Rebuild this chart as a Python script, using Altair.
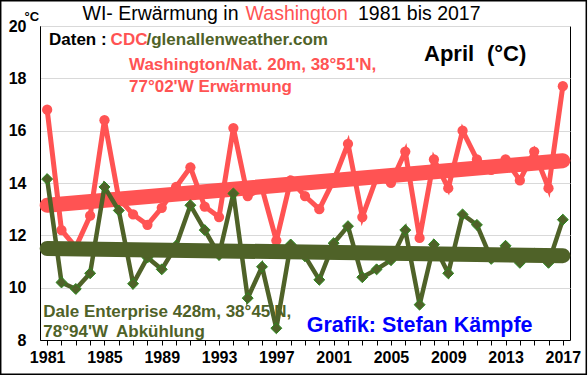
import altair as alt
import pandas as pd

# ---------------- data ----------------
years = list(range(1981, 2018))
washington = [16.8, 12.2, 11.55, 12.75, 16.4, 13.4, 12.8, 12.4, 13.05, 13.85,
              14.6, 13.1, 12.7, 16.1, 13.5, 13.8, 11.8, 14.1, 13.5, 13.0,
              14.1, 15.5, 12.7, 14.2, 14.0, 15.2, 11.9, 14.9, 13.8, 16.0,
              14.9, 14.5, 14.9, 14.1, 15.2, 13.8, 17.7]
dale = [14.15, 10.2, 9.95, 10.55, 13.85, 12.95, 10.15, 11.15, 10.7, 11.6,
        13.15, 12.2, 11.25, 13.6, 9.6, 10.8, 8.45, 11.65, 11.2, 10.3,
        11.7, 12.35, 10.4, 10.7, 11.05, 12.2, 9.35, 11.65, 10.55, 12.8,
        12.4, 11.1, 11.6, 10.95, 11.3, 10.95, 12.6]
trend_years = [1981, 2017]
washington_trend = [13.15, 14.85]
dale_trend = [11.5, 11.22]
y_ticks = [8, 10, 12, 14, 16, 18, 20]

title_parts = ["WI- Erwärmung in", "Washington", "1981 bis 2017"]
source_parts = ["Daten :", "CDC", "/glenallenweather.com"]
month_parts = ["April", "(°C)"]
wash_label = ["Washington/Nat. 20m, 38°51'N,", "77°02'W Erwärmung"]
dale_label = ["Dale Enterprise 428m, 38°45'N,", "78°94'W", "Abkühlung"]
credit = ["Grafik: Stefan Kämpfe"]
unit_label = ["°C"]

FONT = "Liberation Sans"
RED = "#FF5353"
OLIVE = "#4F6228"
DIAMOND_EDGE = "#2A8A1E"
BLUE = "#0000FF"

df_w = pd.DataFrame({"year": years, "value": washington})
df_d = pd.DataFrame({"year": years, "value": dale})
df_wt = pd.DataFrame({"year": trend_years, "value": washington_trend})
df_dt = pd.DataFrame({"year": trend_years, "value": dale_trend})

x_enc = alt.X(
    "year:Q",
    scale=alt.Scale(domain=[1980.5, 2017.5], nice=False, zero=False),
    axis=alt.Axis(
        values=years, format="d",
        labelExpr="datum.value % 4 == 1 ? datum.label : ''",
        title=None, grid=False, tickSize=5, tickColor="black",
        domainColor="black", labelFont=FONT, labelFontSize=16,
        labelFontWeight="bold", labelColor="black", labelPadding=4,
        labelOverlap=False, labelFlush=False, labelBound=False,
    ),
)
y_enc = alt.Y(
    "value:Q",
    scale=alt.Scale(domain=[8, 20], nice=False, zero=False),
    axis=alt.Axis(
        values=y_ticks, title=None, grid=True, gridColor="#D9D9D9",
        gridWidth=1, tickSize=0, domainColor="black", labelFont=FONT,
        labelFontSize=16, labelFontWeight="bold", labelColor="black",
        labelPadding=14, labelFlush=False, labelOverlap=False,
        labelBound=False,
    ),
)

red_line = alt.Chart(df_w).mark_line(color=RED, strokeWidth=5).encode(x=x_enc, y=y_enc)
red_pts = alt.Chart(df_w).mark_point(
    shape="circle", filled=True, size=105, color=RED, opacity=1
).encode(x=x_enc, y=y_enc)
red_trend = alt.Chart(df_wt).mark_line(
    color=RED, strokeWidth=15, strokeCap="round"
).encode(x=x_enc, y=y_enc)

green_line = alt.Chart(df_d).mark_line(color=OLIVE, strokeWidth=4.5).encode(x=x_enc, y=y_enc)
green_pts = alt.Chart(df_d).mark_point(
    shape="diamond", filled=True, size=120, fill=OLIVE, stroke=DIAMOND_EDGE,
    strokeWidth=1, opacity=1
).encode(x=x_enc, y=y_enc)
green_trend = alt.Chart(df_dt).mark_line(
    color=OLIVE, strokeWidth=15, strokeCap="round"
).encode(x=x_enc, y=y_enc)


def label(text, x, y, size, color, weight="bold"):
    return alt.Chart(pd.DataFrame({"t": [text]})).mark_text(
        align="left", baseline="alphabetic", font=FONT, fontSize=size,
        fontWeight=weight, color=color
    ).encode(text="t:N", x=alt.value(x), y=alt.value(y))


texts = [
    label(title_parts[0], 42.5, -6, 19.5, "black", "normal"),
    label(title_parts[1], 205.6, -6, 19.5, RED, "normal"),
    label(title_parts[2], 318, -6, 19.5, "black", "normal"),
    label(unit_label[0], -15.5, -5, 13, "black"),
    label(source_parts[0], 9, 19, 17, "black"),
    label(source_parts[1], 70.6, 19, 17, RED),
    label(source_parts[2], 106.5, 19, 17, OLIVE),
    label(month_parts[0], 384, 35, 22, "black"),
    label(month_parts[1], 447, 35, 22, "black"),
    label(wash_label[0], 89, 44, 17, RED),
    label(wash_label[1], 89, 65.7, 17, RED),
    label(dale_label[0], 3.3, 290.7, 17, OLIVE),
    label(dale_label[1], 3.3, 310.7, 17, OLIVE),
    label(dale_label[2], 76, 310.7, 17, OLIVE),
    label(credit[0], 266.7, 305.7, 21.5, BLUE),
]

border = alt.Chart(pd.DataFrame({"b": [1]})).mark_rect(
    fill="white", fillOpacity=0, stroke="black", strokeWidth=1.5
).encode(
    x=alt.value(-39.3), x2=alt.value(546.3),
    y=alt.value(-25.3), y2=alt.value(348.3),
)

chart = alt.layer(
    red_line, red_pts, red_trend, green_line, green_pts, green_trend,
    *texts, border
).properties(
    width=530, height=314,
    padding={"left": 40, "top": 26, "right": 18, "bottom": 36},
    autosize=alt.AutoSizeParams(type="none"),
    background="white",
).configure_view(stroke="black", strokeWidth=1)

chart.save("out.html", embed_options={"renderer": "svg", "actions": False})
